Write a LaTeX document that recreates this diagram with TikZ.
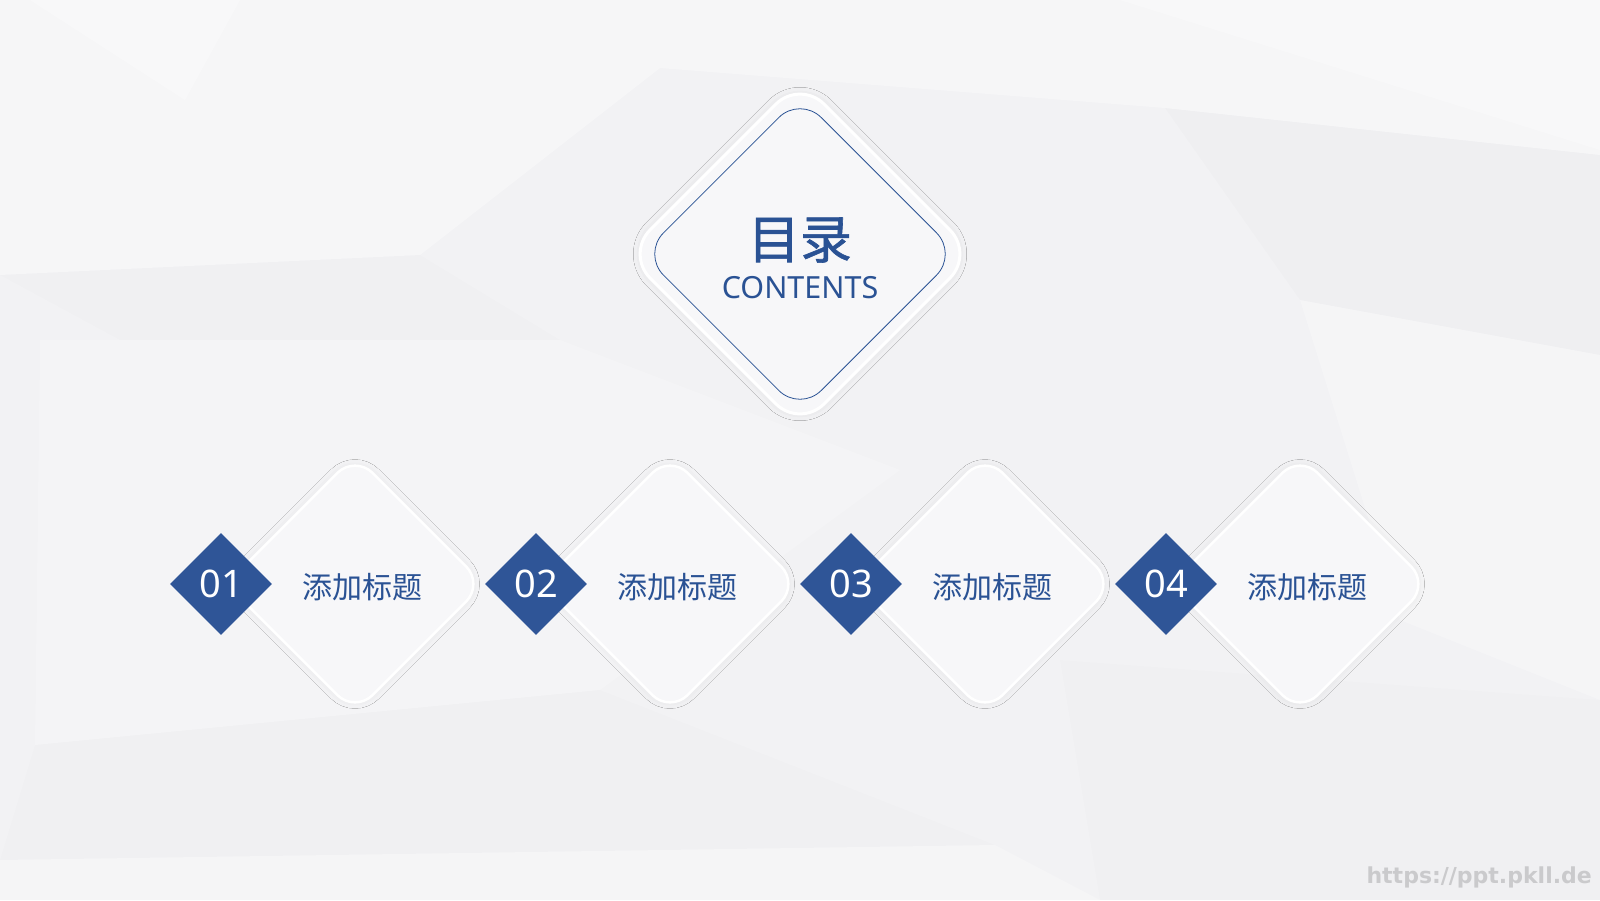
\documentclass[tikz,border=0pt]{standalone}
\usepackage{fontspec}
\newfontfamily\cjk{Noto Sans CJK SC}
\newfontfamily\cjkm[FakeBold=1.2]{Noto Sans CJK SC}
\newfontfamily\latn{Noto Sans}
\newfontfamily\wmfont{DejaVu Sans}
\usetikzlibrary{shadows.blur}
\definecolor{bgbase}{HTML}{F2F2F4}
\definecolor{navy}{HTML}{2A5294}
\definecolor{dblue}{HTML}{2F5597}
\definecolor{card}{HTML}{F7F7F9}
\definecolor{wmgray}{HTML}{CACACC}
\tikzset{
  bigcard/.style={rectangle, rounded corners=34pt, minimum size=246pt, rotate=45,
    fill=card, draw=white, line width=3pt,
    blur shadow={shadow xshift=0pt, shadow yshift=0pt, shadow scale=0.97, shadow blur radius=12pt, shadow opacity=12}},
  innerline/.style={rectangle, rounded corners=30pt, minimum size=223pt, rotate=45,
    draw=navy, line width=0.8pt},
  smallcard/.style={rectangle, rounded corners=25pt, minimum size=182pt, rotate=45,
    fill=card, draw=white, line width=2.5pt,
    blur shadow={shadow xshift=0pt, shadow yshift=0pt, shadow scale=0.97, shadow blur radius=10pt, shadow opacity=11}},
  numbox/.style={rectangle, minimum size=72pt, rotate=45, fill=dblue, inner sep=0pt},
  numtext/.style={text=white, font=\latn\fontsize{38}{38}\selectfont, inner sep=0pt},
  titletext/.style={text=navy, font=\cjk\fontsize{30}{30}\selectfont, inner sep=0pt},
  poly/.style={fill=#1, draw=none}
}
\begin{document}
\begin{tikzpicture}[x=1pt,y=-1pt]
\useasboundingbox (0,0) rectangle (1600,900);
% background
\fill[bgbase] (0,0) rectangle (1600,900);
\fill[poly=white, opacity=0.35] (0,0) -- (1600,0) -- (1600,155) -- (1165,108) -- (660,68) -- (420,255) -- (0,275) -- cycle;
\fill[poly=white, opacity=0.3] (30,0) -- (240,0) -- (185,100) -- cycle;
\fill[poly=white, opacity=0.3] (1120,0) -- (1600,0) -- (1600,150) -- cycle;
\fill[poly=black, opacity=0.008] (0,275) -- (420,255) -- (560,340) -- (120,340) -- cycle;
\fill[poly=white, opacity=0.2] (40,340) -- (560,340) -- (900,470) -- (600,690) -- (35,745) -- cycle;
\fill[poly=black, opacity=0.01] (1165,108) -- (1600,155) -- (1600,355) -- (1300,300) -- cycle;
\fill[poly=white, opacity=0.25] (1300,300) -- (1600,355) -- (1600,700) -- (1400,620) -- cycle;
\fill[poly=black, opacity=0.008] (35,745) -- (600,690) -- (995,845) -- (0,860) -- cycle;
\fill[poly=white, opacity=0.25] (0,860) -- (995,845) -- (1100,900) -- (0,900) -- cycle;
\fill[poly=black, opacity=0.008] (1060,660) -- (1600,700) -- (1600,900) -- (1100,900) -- cycle;
% central card
\node[bigcard] (big) at (800,254) {};
\node[innerline] (bigline) at (800,254) {};
\node[text=navy, font=\cjkm\fontsize{52}{52}\selectfont, inner sep=0pt] (mulu) at (800,240) {目录};
\node[text=navy, font=\latn\fontsize{30.5}{30.5}\selectfont, inner sep=0pt] (contents) at (800,288) {CONTENTS};
% items
\foreach \i/\n in {0/01,1/02,2/03,3/04}{
  \pgfmathsetmacro{\cx}{355+315*\i}
  \node[smallcard] (card\n) at (\cx,584) {};
}
\foreach \i/\n in {0/01,1/02,2/03,3/04}{
  \pgfmathsetmacro{\cx}{355+315*\i}
  \node[numbox] (box\n) at (\cx-134,584) {};
  \node[numtext] (num\n) at (\cx-134,584) {\n};
  \node[titletext] (title\n) at (\cx+7,587) {添加标题};
}
% watermark
\node[anchor=east, text=wmgray, font=\wmfont\bfseries\fontsize{22}{22}\selectfont, inner sep=0pt] (wm) at (1592,877) {https://ppt.pkll.de};
\end{tikzpicture}
\end{document}
